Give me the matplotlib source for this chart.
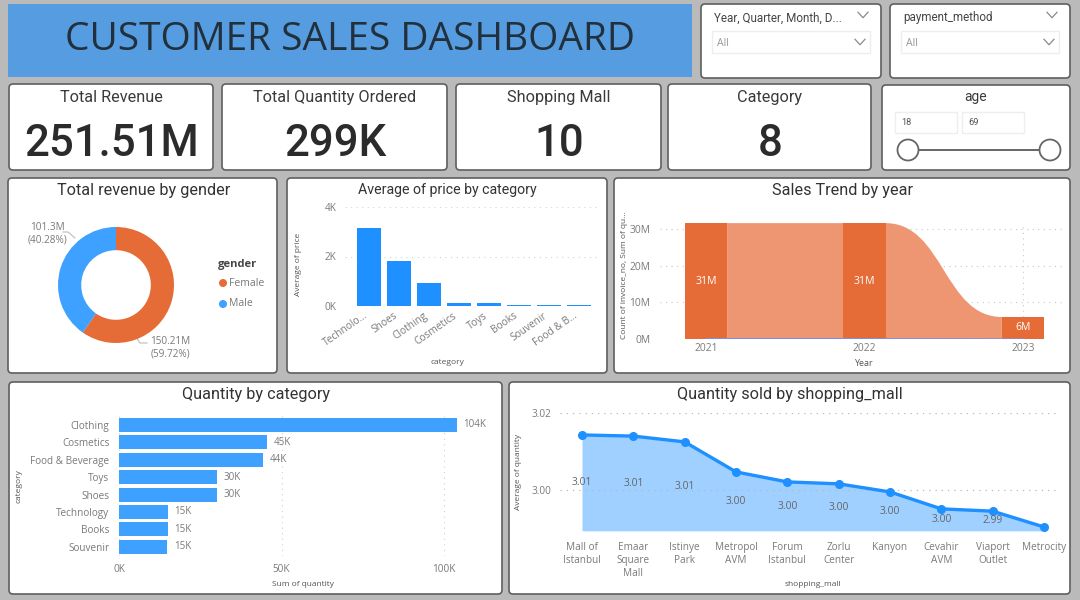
import matplotlib
matplotlib.use("Agg")
import matplotlib.pyplot as plt
from matplotlib.patches import FancyBboxPatch, Rectangle, Circle, PathPatch
from matplotlib.path import Path
from matplotlib.transforms import ScaledTranslation
import numpy as np

# ---------- data ----------
gender_names = ["Female", "Male"]
gender_revenue = [150.21, 101.3]
gender_pct = [59.72, 40.28]

price_categories = ["Technolo...", "Shoes", "Clothing", "Cosmetics", "Toys", "Books", "Souvenir", "Food & B..."]
price_values = [3160, 1820, 910, 120, 105, 60, 50, 40]

trend_years = [2021, 2022, 2023]
trend_invoices = [31.6, 31.6, 6.0]
trend_labels = ["31M", "31M", "6M"]
trend_quantity = [0.13, 0.13, 0.03]

qty_categories = ["Clothing", "Cosmetics", "Food & Beverage", "Toys", "Shoes", "Technology", "Books", "Souvenir"]
qty_values = [104, 45.5, 44.3, 30.2, 30.1, 15.1, 15.0, 14.9]
qty_labels = ["104K", "45K", "44K", "30K", "30K", "15K", "15K", "15K"]

mall_names = ["Mall of\nIstanbul", "Emaar\nSquare\nMall", "Istinye\nPark", "Metropol\nAVM", "Forum\nIstanbul",
              "Zorlu\nCenter", "Kanyon", "Cevahir\nAVM", "Viaport\nOutlet", "Metrocity"]
mall_values = [3.0143, 3.0140, 3.0125, 3.0047, 3.0021, 3.0016, 2.9995, 2.9951, 2.9945, 2.9904]
mall_labels = ["3.01", "3.01", "3.01", "3.00", "3.00", "3.00", "3.00", "3.00", "2.99", ""]
mall_base = 2.9894

kpi_titles = ["Total Revenue", "Total Quantity Ordered", "Shopping Mall", "Category"]
kpi_values = ["251.51M", "299K", "10", "8"]

# ---------- style ----------
W, H = 1080, 600
DIN = ["Roboto", "DejaVu Sans"]
SEG = ["Open Sans", "DejaVu Sans"]
BLUE = "#1E90FF"
BLUE2 = "#3EA0FF"
ORANGE = "#E66C37"
GREY = "#7A7A7A"
DARK = "#333333"
TITLE_FS = 11.7
plt.rcParams["font.family"] = SEG

fig = plt.figure(figsize=(W / 100, H / 100), dpi=100, facecolor="#BABABA")
bg = fig.add_axes([0, 0, 1, 1], zorder=0)
bg.set_xlim(0, W)
bg.set_ylim(H, 0)
bg.axis("off")


def panel(x0, y0, x1, y1):
    bg.add_patch(FancyBboxPatch((x0 + 3, y0 + 3), x1 - x0 - 6, y1 - y0 - 6,
                                boxstyle="round,pad=3,rounding_size=4", fc="white", ec="#5F5F5F", lw=1.2))


def px_axes(x0, y0, x1, y1):
    ax = fig.add_axes([x0 / W, 1 - y1 / H, (x1 - x0) / W, (y1 - y0) / H], zorder=2)
    ax.patch.set_alpha(0)
    for s in ax.spines.values():
        s.set_visible(False)
    ax.tick_params(length=0, labelcolor=GREY, labelsize=7.2)
    return ax


def chevron(x, y, s=5):
    bg.plot([x - s, x, x + s], [y - s * 0.55, y + s * 0.55, y - s * 0.55], color="#8A8A8A", lw=0.9)


# banner
bg.add_patch(Rectangle((8, 4), 684, 73, fc="#569CE0", ec="none"))
bg.text(350, 39.5, "CUSTOMER SALES DASHBOARD", ha="center", va="center", fontsize=28, color="#22303C")

# slicers
for (x0, x1, label) in [(701, 881, "Year, Quarter, Month, D..."), (890, 1070, "payment_method")]:
    panel(x0, 4, x1, 78)
    bg.text(x0 + 13, 18, label, ha="left", va="center", fontsize=8.4, family=DIN, color="#444444")
    chevron(x1 - 18, 15)
    bg.add_patch(Rectangle((x0 + 11, 31), x1 - x0 - 22, 22, fc="white", ec="#EEEEEE", lw=1))
    bg.text(x0 + 16, 43, "All", ha="left", va="center", fontsize=7.6, color="#999999")
    chevron(x1 - 21, 42)

# KPI cards
for (x0, x1), t, v in zip([(9, 213), (222, 447), (456, 661), (668, 871)], kpi_titles, kpi_values):
    panel(x0, 84, x1, 170)
    bg.text((x0 + x1) / 2, 97.5, t, ha="center", va="center", fontsize=TITLE_FS, family=DIN, color="#3A3A3A")
    bg.text((x0 + x1) / 2 + 1, 144, v, ha="center", va="center", fontsize=31.5, family=DIN,
            fontweight="medium", color="#2B2B2B")

# age slicer
panel(882, 85, 1070, 170)
bg.text(976, 97.5, "age", ha="center", va="center", fontsize=10, family=DIN, color="#3A3A3A")
for x0, v in [(895, "18"), (962, "69")]:
    bg.add_patch(Rectangle((x0, 112), 62, 21, fc="white", ec="#EEEEEE", lw=1))
    bg.text(x0 + 6, 122.5, v, ha="left", va="center", fontsize=6.6, family=DIN, color="#555555")
bg.plot([907, 1049], [150, 150], color="#666666", lw=1.4)
for x in (907, 1049):
    bg.add_patch(Circle((x + 1, 150), 10.5, fc="white", ec="#666666", lw=1.3, zorder=3))

# panels
panel(8, 178, 277, 373)
panel(287, 178, 607, 373)
panel(614, 178, 1070, 373)
panel(9, 382, 502, 594)
panel(509, 382, 1070, 594)
bg.text(144, 191, "Total revenue by gender", ha="center", va="center", fontsize=TITLE_FS, family=DIN, color=DARK)
bg.text(447, 190, "Average of price by category", ha="center", va="center", fontsize=10.2, family=DIN, color=DARK)
bg.text(843, 191, "Sales Trend by year", ha="center", va="center", fontsize=TITLE_FS, family=DIN, color=DARK)
bg.text(256, 394, "Quantity by category", ha="center", va="center", fontsize=TITLE_FS, family=DIN, color=DARK)
bg.text(790, 394, "Quantity sold by shopping_mall", ha="center", va="center", fontsize=TITLE_FS, family=DIN, color=DARK)

# donut
ax = px_axes(58, 227, 174, 343)
ax.pie(gender_revenue, colors=[ORANGE, BLUE2], startangle=90, counterclock=False, radius=1,
       wedgeprops=dict(width=0.40, edgecolor="none"))
ax.set_xlim(-1, 1)
ax.set_ylim(-1, 1)
bg.text(47, 234, f"{gender_revenue[1]}M\n({gender_pct[1]}%)", ha="center", va="center", fontsize=7.2,
        color=GREY, linespacing=1.25)
bg.plot([63, 68, 75], [232, 232, 238], color="#BBBBBB", lw=0.8)
bg.text(170, 348, f"{gender_revenue[0]}M\n({gender_pct[0]}%)", ha="center", va="center", fontsize=7.2,
        color=GREY, linespacing=1.25)
bg.plot([136, 140, 147], [337, 343, 343], color="#BBBBBB", lw=0.8)
bg.text(218, 264, "gender", ha="left", va="center", fontsize=8, fontweight="bold", color="#444444")
for y, c, n in zip([283, 304], [ORANGE, BLUE2], gender_names):
    bg.add_patch(Circle((223, y), 4, fc=c, ec="none"))
    bg.text(229, y, n, ha="left", va="center", fontsize=7.6, color=GREY)

# price bars
ax = px_axes(345, 207, 600, 306)
ax.set_xlim((345 - 369) / 30, (600 - 369) / 30)
ax.set_ylim(0, 4000)
ax.bar(range(len(price_values)), price_values, width=0.8, color=BLUE, zorder=2)
ax.set_yticks([0, 2000, 4000], ["0K", "2K", "4K"])
ax.tick_params(axis="y", pad=6)
ax.grid(axis="y", color="#D4D4D4", ls=(0, (1, 4)), lw=0.8)
ax.set_axisbelow(True)
ax.set_xticks(range(len(price_categories)))
ax.set_xticklabels(price_categories, rotation=35, ha="right", rotation_mode="anchor", fontsize=7.3)
ax.tick_params(axis="x", pad=3)
shift = ScaledTranslation(-6 / 100, 0, fig.dpi_scale_trans)
for lab in ax.get_xticklabels():
    lab.set_transform(lab.get_transform() + shift)
bg.text(447, 362, "category", ha="center", va="center", fontsize=6, color="#555555")
bg.text(298, 264, "Average of price", rotation=90, ha="center", va="center", fontsize=6, color="#555555")

# trend ribbon
ax = px_axes(660, 223, 1065, 339)
ppm = (339 - 229) / 30
ax.set_xlim(2021 + (660 - 706) / 158.5, 2021 + (1065 - 706) / 158.5)
ax.set_ylim(0, (339 - 223) / ppm)
half = 0.133
for a, b, ya, yb in zip(trend_years[:-1], trend_years[1:], trend_invoices[:-1], trend_invoices[1:]):
    xa, xb = a + half, b - half
    mid = (xa + xb) / 2
    verts = [(xa, 0), (xa, ya), (mid, ya), (mid, yb), (xb, yb), (xb, 0), (xa, 0)]
    codes = [Path.MOVETO, Path.LINETO, Path.CURVE4, Path.CURVE4, Path.CURVE4, Path.LINETO, Path.CLOSEPOLY]
    ax.add_patch(PathPatch(Path(verts, codes), fc="#EE9672", ec="none", zorder=2))
ax.bar(trend_years, trend_invoices, width=2 * half, color=ORANGE, zorder=3)
ax.plot(trend_years, trend_quantity, color="#7B8FE8", lw=0.8, zorder=4)
for x, y, s in zip(trend_years, trend_invoices, trend_labels):
    ax.text(x, y / 2, s, ha="center", va="center", fontsize=7.6, color="white", zorder=5)
ax.set_yticks([0, 10, 20, 30], ["0M", "10M", "20M", "30M"])
ax.set_xticks(trend_years, [str(y) for y in trend_years])
ax.tick_params(axis="y", pad=7, labelsize=7.4)
ax.tick_params(axis="x", pad=3, labelsize=7.4)
ax.grid(axis="both", color="#C8C8C8", ls=(0, (1, 4)), lw=0.8)
ax.set_axisbelow(True)
bg.text(864, 363, "Year", ha="center", va="center", fontsize=6.4, color="#555555")
bg.text(625, 275, "Count of invoice_no, Sum of qu...", rotation=90, ha="center", va="center", fontsize=6, color="#555555")

# quantity bars
ax = px_axes(119, 415, 475, 556)
ax.set_xlim(0, (475 - 119) / 3.25)
ypos = np.arange(len(qty_values))
ax.set_ylim((556 - 425) / 17.4, (415 - 425) / 17.4)
ax.barh(ypos, qty_values, height=0.8, color=BLUE2, zorder=2)
for y, v, s in zip(ypos, qty_values, qty_labels):
    ax.text(v + 2.0, y, s, ha="left", va="center", fontsize=7, color=GREY)
ax.set_yticks(ypos, qty_categories)
ax.set_xticks([0, 50, 100], ["0K", "50K", "100K"])
ax.tick_params(axis="y", pad=7, labelsize=7.2)
ax.tick_params(axis="x", pad=6, labelsize=7.2)
ax.grid(axis="x", color="#D0D0D0", ls=(0, (1, 4)), lw=0.8)
ax.set_axisbelow(True)
bg.text(303, 585, "Sum of quantity", ha="center", va="center", fontsize=6, color="#555555")
bg.text(19, 486, "category", rotation=90, ha="center", va="center", fontsize=6, color="#555555")

# mall area/line
ax = px_axes(560, 413, 1060, 535)
step = (1044 - 582) / 9
ax.set_xlim((560 - 582) / step, (1060 - 582) / step)
ppv = (490 - 413) / 0.02
ax.set_ylim(3.0 - (535 - 490) / ppv, 3.02)
xm = np.arange(len(mall_values))
ax.fill_between(xm, mall_values, mall_base, color="#9FD0FF", lw=0, zorder=2)
ax.plot(xm, mall_values, color=BLUE, lw=2.4, marker="o", ms=5.5, zorder=3, clip_on=False)
for x, v, s in zip(xm, mall_values, mall_labels):
    ax.text(x, (v + mall_base) / 2, s, ha="center", va="center", fontsize=7.4, color="#666666", zorder=4)
ax.set_yticks([3.0, 3.02], ["3.00", "3.02"])
ax.tick_params(axis="y", pad=6, labelsize=7.2)
ax.grid(axis="y", color="#B8B8B8", ls=(0, (1, 4)), lw=0.9, zorder=5)
ax.set_axisbelow(False)
ax.set_xticks(xm, mall_names, fontsize=7.2, linespacing=1.25)
ax.tick_params(axis="x", pad=5)
bg.text(813, 585, "shopping_mall", ha="center", va="center", fontsize=6, color="#555555")
bg.text(519, 472, "Average of quantity", rotation=90, ha="center", va="center", fontsize=6, color="#555555")

fig.savefig("out.png", dpi=100, facecolor=fig.get_facecolor())
